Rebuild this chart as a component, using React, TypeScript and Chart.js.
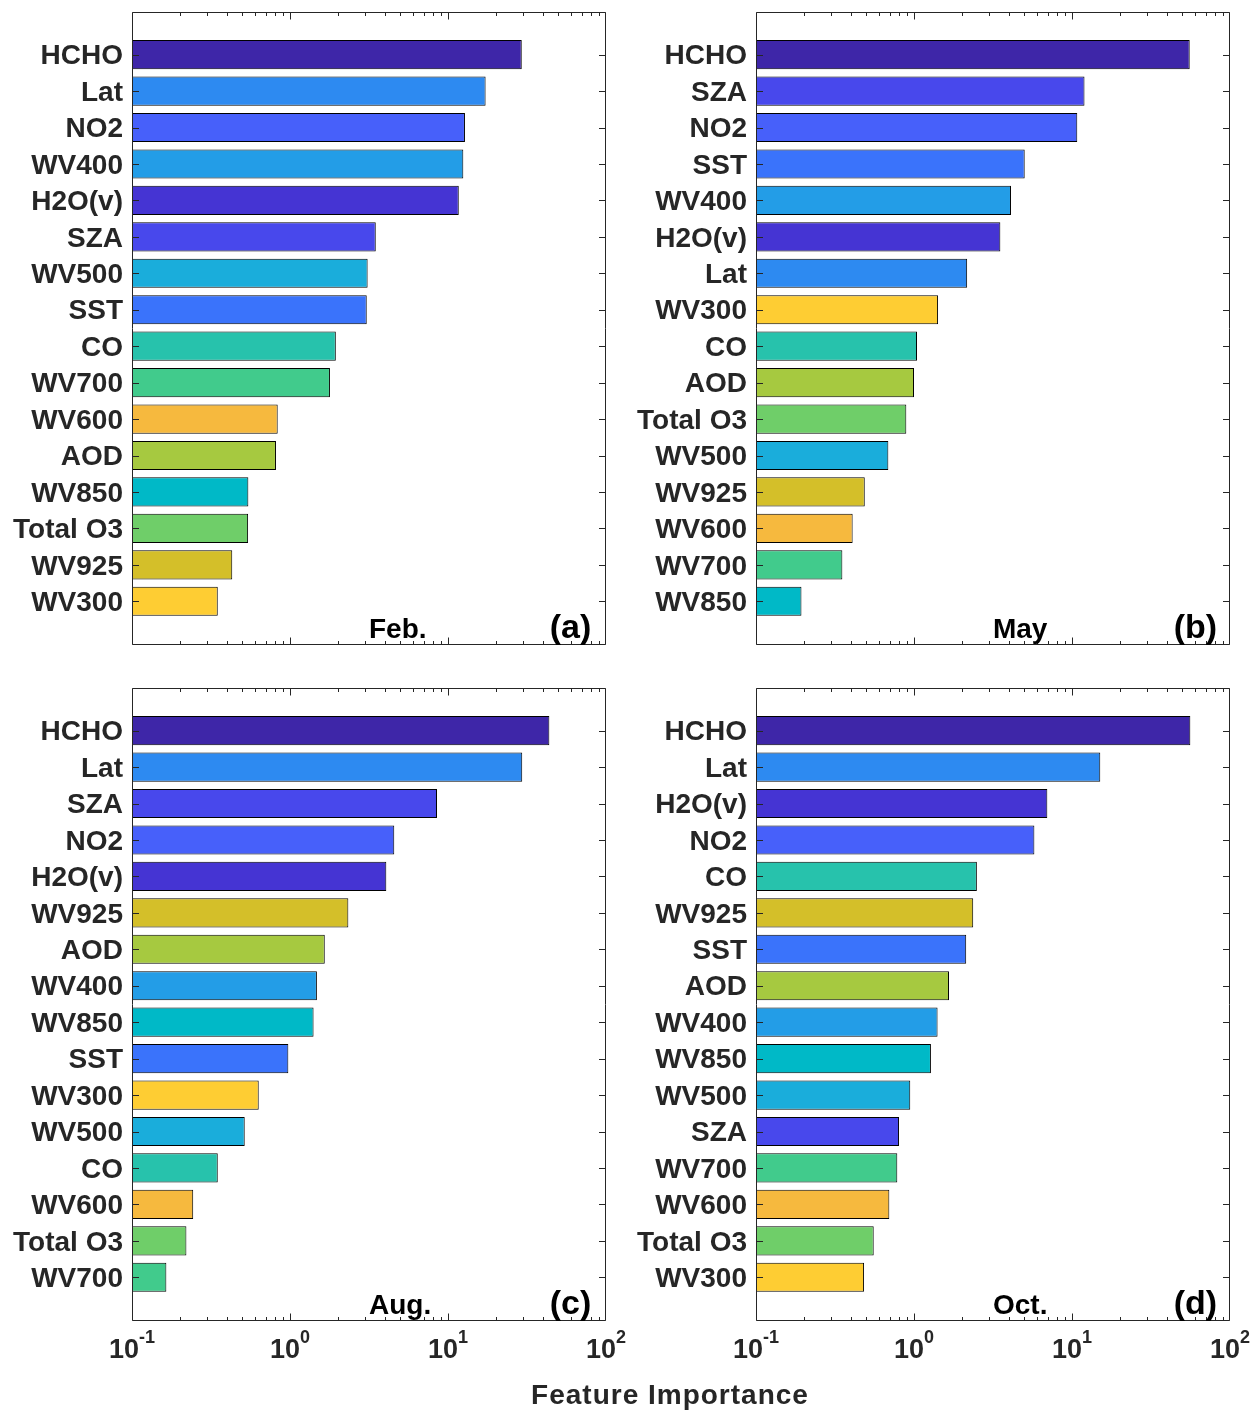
import { useEffect, useRef } from "react";
import { Chart, registerables } from "chart.js";

Chart.register(...registerables);

// Feature importance per month, listed from most to least important
const FEB_FEATURES = ["HCHO", "Lat", "NO2", "WV400", "H2O(v)", "SZA", "WV500", "SST", "CO", "WV700", "WV600", "AOD", "WV850", "Total O3", "WV925", "WV300"];
const FEB_VALUES = [29.3, 17.3, 12.8, 12.5, 11.7, 3.49, 3.1, 3.06, 1.95, 1.79, 0.836, 0.815, 0.545, 0.543, 0.431, 0.349];

const MAY_FEATURES = ["HCHO", "SZA", "NO2", "SST", "WV400", "H2O(v)", "Lat", "WV300", "CO", "AOD", "Total O3", "WV500", "WV925", "WV600", "WV700", "WV850"];
const MAY_VALUES = [55.6, 12.0, 10.8, 5.02, 4.11, 3.52, 2.17, 1.42, 1.045, 1.0, 0.894, 0.688, 0.488, 0.409, 0.352, 0.194];

const AUG_FEATURES = ["HCHO", "Lat", "SZA", "NO2", "H2O(v)", "WV925", "AOD", "WV400", "WV850", "SST", "WV300", "WV500", "CO", "WV600", "Total O3", "WV700"];
const AUG_VALUES = [43.8, 29.5, 8.52, 4.57, 4.07, 2.34, 1.66, 1.48, 1.41, 0.976, 0.634, 0.517, 0.349, 0.244, 0.221, 0.165];

const OCT_FEATURES = ["HCHO", "Lat", "H2O(v)", "NO2", "CO", "WV925", "SST", "AOD", "WV400", "WV850", "WV500", "SZA", "WV700", "WV600", "Total O3", "WV300"];
const OCT_VALUES = [56.1, 15.1, 6.98, 5.78, 2.5, 2.37, 2.14, 1.665, 1.41, 1.28, 0.947, 0.804, 0.784, 0.698, 0.556, 0.483];

const MONTHS = ["Feb.", "May", "Aug.", "Oct."];
const PANEL_TAGS = ["(a)", "(b)", "(c)", "(d)"];
const X_DECADES = [0.1, 1, 10, 100];
const X_EXPONENTS = ["-1", "0", "1", "2"];
const X_TITLE = "Feature Importance";

// Fixed colour for each feature (parula-like)
const FEATURE_COLORS: Record<string, string> = {
  HCHO: "#3E26A8",
  "H2O(v)": "#4534D3",
  SZA: "#4848EC",
  NO2: "#4760FA",
  SST: "#3A73FB",
  Lat: "#2D8AF1",
  WV400: "#239DE7",
  WV500: "#1AADDB",
  WV850: "#00B9C7",
  CO: "#27C2AC",
  WV700: "#41CB8C",
  "Total O3": "#6FCE69",
  AOD: "#A6C940",
  WV925: "#D4BF29",
  WV600: "#F6B93E",
  WV300: "#FECD33",
};

const FONT = "'Liberation Sans', Arial, Helvetica, sans-serif";
const AXIS_COLOR = "#262626";

// value-axis limits and annotation anchors (data units)
const X_MIN = 0.1;
const X_MAX = 100;
const Y_MIN = -0.17;
const Y_MAX = 17.2;
const NOTE_X = 3.16;
const TAG_X = 44;
const NOTE_Y = 17.0;

// canvas layout
const CANVAS_W = 631;
const AXIS_W = 132;
const PAD_TOP = 12;
const PAD_RIGHT = 25;

const PANELS = [
  { features: FEB_FEATURES, values: FEB_VALUES, left: 0, top: 0, h: 676, padBottom: 31, showX: false },
  { features: MAY_FEATURES, values: MAY_VALUES, left: 624, top: 0, h: 676, padBottom: 31, showX: false },
  { features: AUG_FEATURES, values: AUG_VALUES, left: 0, top: 676, h: 738, padBottom: 93, showX: true },
  { features: OCT_FEATURES, values: OCT_VALUES, left: 624, top: 676, h: 738, padBottom: 93, showX: true },
];

function framePlugin(index: number, count: number, showX: boolean) {
  return {
    id: "panelFrame",
    afterDraw(chart: Chart) {
      const { ctx, chartArea } = chart;
      const xs = chart.scales.x;
      const ys = chart.scales.y;
      const L = Math.round(chartArea.left) + 0.5;
      const R = Math.round(chartArea.right) - 0.5;
      const T = Math.round(chartArea.top) + 0.5;
      const B = Math.round(chartArea.bottom) - 0.5;

      ctx.save();
      ctx.strokeStyle = AXIS_COLOR;
      ctx.lineWidth = 1;
      ctx.beginPath();
      ctx.rect(L, T, R - L, B - T);

      // inward log ticks on bottom and top edges
      for (let k = -1; k <= 1; k++) {
        for (let m = 1; m <= 9; m++) {
          const v = m * Math.pow(10, k);
          const px = Math.round(xs.getPixelForValue(v)) + 0.5;
          const len = m === 1 ? 7 : 3.5;
          ctx.moveTo(px, B);
          ctx.lineTo(px, B - len);
          ctx.moveTo(px, T);
          ctx.lineTo(px, T + len);
        }
      }
      const pxMax = Math.round(xs.getPixelForValue(X_MAX)) - 0.5;
      ctx.moveTo(pxMax, B);
      ctx.lineTo(pxMax, B - 7);
      ctx.moveTo(pxMax, T);
      ctx.lineTo(pxMax, T + 7);

      // inward category ticks on left and right edges
      for (let i = 1; i <= count; i++) {
        const py = Math.round(ys.getPixelForValue(i)) + 0.5;
        ctx.moveTo(L, py);
        ctx.lineTo(L + 6.5, py);
        ctx.moveTo(R, py);
        ctx.lineTo(R - 6.5, py);
      }
      ctx.stroke();

      // month and panel tag
      ctx.fillStyle = "#000";
      ctx.textAlign = "left";
      ctx.textBaseline = "alphabetic";
      ctx.font = `bold 28px ${FONT}`;
      ctx.fillText(MONTHS[index], xs.getPixelForValue(NOTE_X), ys.getPixelForValue(NOTE_Y));
      ctx.font = `bold 34px ${FONT}`;
      ctx.fillText(PANEL_TAGS[index], xs.getPixelForValue(TAG_X), ys.getPixelForValue(NOTE_Y));

      // decade labels with superscript exponents
      if (showX) {
        ctx.fillStyle = AXIS_COLOR;
        X_DECADES.forEach((v, j) => {
          const cx = xs.getPixelForValue(v);
          ctx.font = `bold 27px ${FONT}`;
          const wBase = ctx.measureText("10").width;
          ctx.font = `bold 18px ${FONT}`;
          const wExp = ctx.measureText(X_EXPONENTS[j]).width;
          const start = cx - (wBase + wExp) / 2;
          ctx.font = `bold 27px ${FONT}`;
          ctx.fillText("10", start, chartArea.bottom + 37);
          ctx.font = `bold 18px ${FONT}`;
          ctx.fillText(X_EXPONENTS[j], start + wBase, chartArea.bottom + 22);
        });
      }
      ctx.restore();
    },
  };
}

export default function App() {
  const refs = useRef<(HTMLCanvasElement | null)[]>([]);

  useEffect(() => {
    const charts = PANELS.map((p, i) => {
      const canvas = refs.current[i] as HTMLCanvasElement;
      return new Chart(canvas, {
        type: "bar",
        data: {
          datasets: [
            {
              data: p.values.map((v, k) => ({ x: v, y: k + 1 })),
              backgroundColor: p.features.map((f) => FEATURE_COLORS[f]),
              borderColor: "#000",
              borderWidth: 1,
              barPercentage: 0.8,
              categoryPercentage: 1,
            },
          ],
        },
        options: {
          indexAxis: "y",
          responsive: false,
          maintainAspectRatio: false,
          devicePixelRatio: 1,
          animation: false,
          layout: { padding: { left: 0, top: PAD_TOP, right: PAD_RIGHT, bottom: p.padBottom } },
          plugins: { legend: { display: false }, tooltip: { enabled: false } },
          scales: {
            x: {
              type: "logarithmic",
              min: X_MIN,
              max: X_MAX,
              display: false,
            },
            y: {
              type: "linear",
              reverse: true,
              offset: false,
              min: Y_MIN,
              max: Y_MAX,
              afterBuildTicks: (s: any) => {
                s.ticks = p.features.map((_, k) => ({ value: k + 1 }));
              },
              afterFit: (s: any) => {
                s.width = AXIS_W;
                s.paddingTop = 0;
                s.paddingBottom = 0;
              },
              grid: { display: false, drawTicks: false },
              border: { display: false },
              ticks: {
                autoSkip: false,
                padding: 9,
                labelOffset: 2,
                color: AXIS_COLOR,
                font: { family: FONT, weight: "bold", size: 28 },
                callback: (v: any) => p.features[Number(v) - 1] ?? "",
              },
            },
          },
        },
        plugins: [framePlugin(i, p.features.length, p.showX)],
      } as any);
    });
    return () => charts.forEach((c) => c.destroy());
  }, []);

  return (
    <div style={{ position: "absolute", left: 0, top: 0, width: 1255, height: 1414, background: "#fff" }}>
      {PANELS.map((p, i) => (
        <canvas
          key={i}
          ref={(el) => {
            refs.current[i] = el;
          }}
          width={CANVAS_W}
          height={p.h}
          style={{ position: "absolute", left: p.left, top: p.top, width: CANVAS_W, height: p.h }}
        />
      ))}
      <div
        style={{
          position: "absolute",
          left: 470,
          top: 1379,
          width: 400,
          textAlign: "center",
          font: `bold 28px ${FONT}`,
          lineHeight: "32px",
          letterSpacing: "1px",
          color: AXIS_COLOR,
        }}
      >
        {X_TITLE}
      </div>
    </div>
  );
}
